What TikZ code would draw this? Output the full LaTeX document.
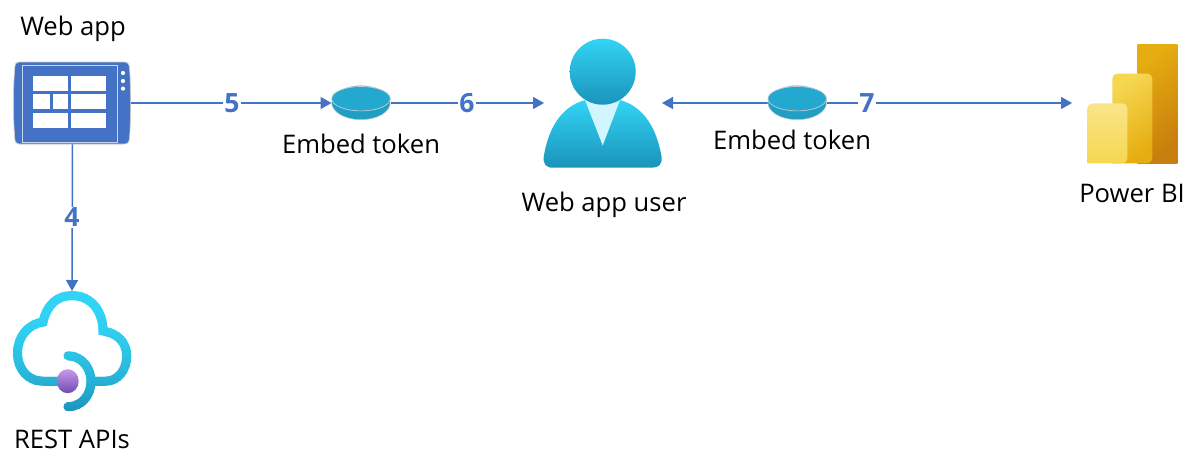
\documentclass[tikz,border=0pt]{standalone}
\usepackage{fontspec}
\setmainfont{Open Sans}
\usetikzlibrary{arrows.meta}
\definecolor{linkblue}{HTML}{4472C4}
\definecolor{azlight}{HTML}{32D4F5}
\definecolor{azdark}{HTML}{1B93BA}
\definecolor{disc}{HTML}{23A8CF}
\definecolor{discedge}{HTML}{C4CCD2}
\definecolor{pbA}{HTML}{F9E589}
\definecolor{pbB}{HTML}{F6D751}
\definecolor{pbC}{HTML}{E6AD10}
\definecolor{pbD}{HTML}{C87E0E}
\definecolor{purpA}{HTML}{C69AEB}
\definecolor{purpB}{HTML}{6F4BB2}
\tikzset{
  anchorbox/.style={inner sep=0pt,outer sep=0pt,draw=none},
  caption/.style={inner sep=0pt,font=\fontsize{25.6}{28}\selectfont,text=black},
  stepnum/.style={fill=white,inner sep=1.5pt,text=linkblue,font=\fontsize{26.5}{28}\selectfont\bfseries},
  link/.style={draw=linkblue,line width=1.5pt},
  tip/.style={-{Triangle[length=11pt,width=12pt]}},
  cell/.style={fill=white,draw=none},
}
\begin{document}
\begin{tikzpicture}[x=1pt,y=-1pt]
\useasboundingbox (0,0) rectangle (1198,467);
\fill[white] (0,0) rectangle (1198,467);

% anchors
\node[anchorbox,minimum width=117pt,minimum height=82pt] (webapp) at (72.5,103) {};
\node[anchorbox,minimum width=118pt,minimum height=124pt] (user) at (603,103) {};
\node[anchorbox,minimum width=59pt,minimum height=34pt] (tokenA) at (361,103) {};
\node[anchorbox,minimum width=59pt,minimum height=34pt] (tokenB) at (797.2,103) {};
\node[anchorbox,minimum width=106pt,minimum height=120pt] (powerbi) at (1125,103) {};
\node[anchorbox,minimum width=118pt,minimum height=120pt] (rest) at (72,351) {};

% connectors
\draw[link,tip] (webapp.east) -- (tokenA.west);
\draw[link,tip] (tokenA.east) -- (user.west);
\draw[link,tip] (tokenB.west) -- (user.east);
\draw[link,tip] (tokenB.east) -- (powerbi.west);
\draw[link,tip] (webapp.south) -- (rest.north);

\node[stepnum] (n5) at (232,103.5) {5};
\node[stepnum] (n6) at (467,103.5) {6};
\node[stepnum] (n7) at (867,103.5) {7};
\node[stepnum] (n4) at (72,217.5) {4};

% web app icon
\fill[linkblue,draw=black!20,line width=.6pt]
  (19,62) -- (124,62) .. controls (128,62) and (129,64) .. (129.5,68)
  .. controls (131,90) and (131,116) .. (129.5,138)
  .. controls (129,142) and (128,144) .. (124,144) -- (19,144)
  .. controls (16,144) and (15,142) .. (14.8,138)
  .. controls (13,116) and (13,90) .. (14.8,68)
  .. controls (15,64) and (16,62) .. (19,62) -- cycle;
\draw[draw=white!70!linkblue,line width=.9pt] (22.5,65.5) rectangle (117,142.5);
\fill[cell] (33.3,75.5) rectangle (68,90.5);
\fill[cell] (71,75.5) rectangle (106.3,90.5);
\fill[cell] (33.3,94) rectangle (49.7,109);
\fill[cell] (52.5,94) rectangle (68,109);
\fill[cell] (71,94) rectangle (106.3,109);
\fill[cell] (33.3,112.5) rectangle (68,127.5);
\fill[cell] (71,112.5) rectangle (106.3,127.5);
\fill[white] (123,73) circle (2.1);
\fill[white] (123,81) circle (2.1);
\fill[white] (123,88.6) circle (2.1);

% token discs
\foreach \cx in {361,797.2}{
  \fill[disc!94!black,draw=discedge,line width=.5pt] (\cx,102.7) ellipse [x radius=29.3,y radius=17];
  \fill[disc,draw=discedge,line width=.7pt] (\cx,98.7) ellipse [x radius=29.3,y radius=12.2];
}

% user icon
\shade[top color=azlight,bottom color=azdark]
  (585,100) .. controls (560,107) and (548,130) .. (543.7,157)
  .. controls (543,164) and (546,167.7) .. (553,167.7)
  -- (652,167.7) .. controls (659,167.7) and (662.3,164) .. (661.6,157)
  .. controls (657,130) and (645,107) .. (620,100) -- cycle;
\fill[white!78!azlight] (585,100) -- (620,100) -- (602.7,145.5) -- cycle;
\shade[top color=azlight,bottom color=azdark] (602.7,71.7) circle (33);

% power bi icon
\shade[top color=pbC,bottom color=pbD,shading angle=35] (1137.3,44) -- (1177.3,44) -- (1177.3,163.3) -- (1137.3,163.3) -- cycle;
\shade[rounded corners=5pt,top color=pbB,bottom color=pbC,shading angle=35]
  (1112.3,163.3) -- (1112.3,73.5) -- (1152.3,73.5) -- (1152.3,163.3) [sharp corners] -- cycle;
\shade[rounded corners=5pt,top color=pbA,bottom color=pbB,shading angle=0]
  (1087.3,163.3) -- (1087.3,103.4) -- (1127.3,103.4) -- (1127.3,163.3) [sharp corners] -- cycle;

% REST cloud icon (vertical gradient stroke, painted in bands)
\foreach \yy in {288,290,...,414}{
  \pgfmathsetmacro{\tee}{max(0,min(1,(\yy-292)/120))}
  \pgfmathsetmacro{\pct}{100*(1-\tee*\tee)}
  \begin{scope}
    \clip (0,\yy) rectangle (140,\yy+2.4);
    \draw[draw=azlight!\pct!azdark,line width=9pt,line cap=butt]
      (95,381.3) -- (105,381.3) .. controls (118,381.3) and (126.7,370) .. (126.7,356)
      .. controls (126.7,342) and (117,333) .. (103,331)
      .. controls (103,310) and (90,295.5) .. (72,295.5)
      .. controls (58,295.5) and (47,304) .. (43,322)
      .. controls (28,324) and (17.5,337) .. (17.5,353)
      .. controls (17.5,369) and (28,381.3) .. (43,381.3) -- (58,381.3);
    \draw[draw=azlight!\pct!azdark,line width=9pt,line cap=round]
      (68,355.7) .. controls (82,356) and (91,368) .. (91,381.3)
      .. controls (91,395) and (82,406.5) .. (68,406.7);
  \end{scope}
}
\shade[top color=purpA,bottom color=purpB] (67.7,381.2) ellipse [x radius=11,y radius=12];

% captions
\node[caption] (capweb) at (73,29) {Web app};
\node[caption] (caprest) at (72,439) {REST APIs};
\node[caption] (captokA) at (361,143.5) {Embed token};
\node[caption] (captokB) at (792,139.5) {Embed token};
\node[caption] (capuser) at (604,204.5) {Web app user};
\node[caption] (cappbi) at (1132,193) {Power BI};
\end{tikzpicture}
\end{document}
